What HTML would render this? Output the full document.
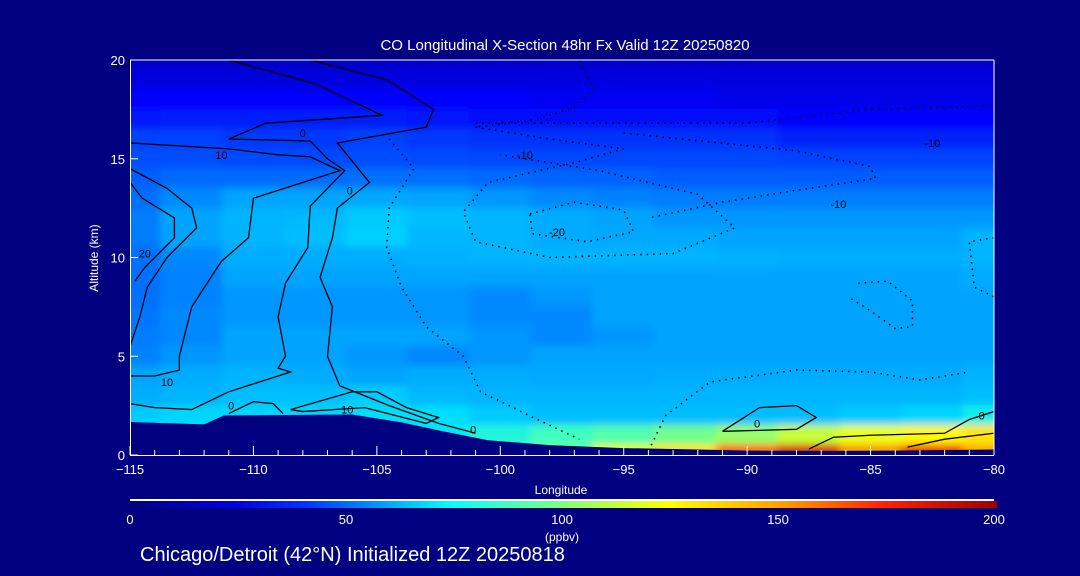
<!DOCTYPE html>
<html><head><meta charset="utf-8"><style>
html,body{margin:0;padding:0;background:#000080;}
svg{display:block;font-family:"Liberation Sans",sans-serif;}
</style></head><body>
<svg id="chart" width="1080" height="576" viewBox="0 0 1080 576" xmlns="http://www.w3.org/2000/svg">
<defs>
<clipPath id="plotclip"><rect x="130" y="60" width="864" height="395"/></clipPath>
<filter id="blur" x="-5%" y="-5%" width="110%" height="110%"><feGaussianBlur stdDeviation="4"/></filter>
<linearGradient id="cbar" x1="0" x2="1" y1="0" y2="0">
<stop offset="0" stop-color="#000080"/><stop offset="0.12" stop-color="#0000e0"/><stop offset="0.2" stop-color="#0030ff"/>
<stop offset="0.28" stop-color="#0090ff"/><stop offset="0.37" stop-color="#00ffff"/><stop offset="0.5" stop-color="#80ff80"/>
<stop offset="0.62" stop-color="#ffff00"/><stop offset="0.75" stop-color="#ffa000"/><stop offset="0.87" stop-color="#ff2000"/>
<stop offset="1" stop-color="#a00000"/></linearGradient>
</defs>
<rect x="0" y="0" width="1080" height="576" fill="#000080"/>
<text x="565" y="50" fill="#fff" font-size="15" text-anchor="middle">CO Longitudinal X-Section 48hr  Fx Valid 12Z 20250820</text>
<g id="field" clip-path="url(#plotclip)"><g id="cells" filter="url(#blur)"></g></g>
<polygon id="terrain" fill="#000080"/>
<g id="contours" clip-path="url(#plotclip)"></g>
<g id="axes"></g>
<line x1="130" y1="500" x2="994" y2="500" stroke="#fff" stroke-width="2"/>
<rect x="130" y="501" width="867" height="7" fill="url(#cbar)"/>
<g id="cbticks"></g>
<text x="562" y="541" fill="#fff" font-size="12" text-anchor="middle">(ppbv)</text>
<text x="561" y="494" fill="#fff" font-size="12" text-anchor="middle">Longitude</text>
<text x="98" y="258" fill="#fff" font-size="12" text-anchor="middle" transform="rotate(-90 98 258)">Altitude (km)</text>
<text x="140" y="561" fill="#fff" font-size="20">Chicago/Detroit (42°N) Initialized 12Z 20250818</text>
</svg>
<script>
const lons=[-115,-112.5,-110,-107.5,-105,-102.5,-100,-97.5,-95,-92.5,-90,-87.5,-85,-82.5,-80];
const alts=[20,19,18,17,16,15,14,13,12,11,10,9,8,7,6,5,4,3,2,1,0];
const co=[
[28,28,28,28,28,28,28,28,28,28,28,28,28,28,28],
[30,30,30,30,30,30,30,30,30,30,30,30,30,30,30],
[33,33,33,33,33,33,33,32,32,32,31,31,31,31,31],
[36,37,37,37,37,36,35,35,35,35,35,34,34,34,34],
[42,42,41,41,42,41,40,40,40,40,40,38,38,38,38],
[46,46,45,45,46,45,44,44,44,44,44,43,43,43,43],
[49,51,51,51,52,52,51,50,50,49,49,49,49,49,49],
[52,56,58,58,59,58,57,56,55,54,54,54,54,54,54],
[54,58,62,63,66,64,62,60,58,57,57,57,57,57,57],
[54,58,62,64,67,63,62,60,59,59,58,58,58,58,62],
[52,56,60,60,60,61,62,62,62,62,61,60,60,60,62],
[52,55,58,58,58,58,58,58,58,58,58,58,58,58,60],
[52,55,57,57,57,57,56,57,58,58,58,58,58,58,58],
[53,56,57,57,57,57,56,56,58,58,58,58,58,58,58],
[54,56,58,58,58,58,57,56,57,58,58,58,58,58,58],
[55,57,58,58,57,56,57,58,58,58,58,58,58,58,58],
[58,60,62,60,58,60,60,59,59,60,60,60,60,60,62],
[60,62,64,64,66,63,62,62,62,62,62,62,62,62,64],
[66,68,68,68,70,70,66,64,64,64,64,64,66,68,74],
[72,72,72,72,72,72,76,80,84,90,98,108,116,122,128],
[75,75,75,75,75,75,80,90,115,128,160,178,150,168,145]];
const terrainLon=[-115,-112,-111.2,-106,-104,-102.5,-100.5,-98,-95,-92,-90,-87,-84,-80];
const terrainAlt=[1.67,1.55,2.0,2.05,1.65,1.25,0.75,0.5,0.35,0.28,0.22,0.2,0.22,0.28];
const xTicks=[-115,-110,-105,-100,-95,-90,-85,-80];
const yTicks=[0,5,10,15,20];
const cbTicks=[0,50,100,150,200];
const solid=[
[[-107.7,20],[-104.6,19],[-102.7,17.5],[-103,16.6],[-106.6,15.8],[-105.3,13.8],[-106.6,12.5],[-106.8,11],[-107.3,9],[-106.8,7.5],[-107,5],[-106.5,3.5],[-104.5,2.5],[-102.5,1.6],[-101,1.1]],
[[-115,20],[-111,20],[-107.5,18.8],[-104.8,17.2],[-109.5,16.8],[-111,16],[-107.7,15.9],[-107,15],[-106.3,14.4],[-107.7,12.6],[-107.8,10.5],[-108.7,8.7],[-109,7],[-108.7,5],[-109,4.4],[-108.5,4.2],[-110,3.6],[-111,3.2],[-112.5,2.3],[-114,2.4],[-115,2.6]],
[[-115,15.8],[-111,15.5],[-109,15.2],[-107.7,15.1],[-106.5,14.4],[-110,13],[-110.2,11],[-111.3,9.8],[-112.5,7.5],[-113,5],[-113,4.3],[-114,4],[-115,4]],
[[-115,14.5],[-113.5,13.5],[-112.5,12.5],[-112.3,11.5],[-113.5,10],[-114.3,8.5],[-114.6,7],[-115,5.5]],
[[-115,13.8],[-114.5,13],[-113.2,12],[-113.2,11],[-114.4,9.5],[-114.8,8.8]],
[[-108.5,2.3],[-106,3.2],[-105,3.2],[-103.8,2.4],[-102.5,1.9],[-103,1.6],[-105.5,2.4],[-108,2.2],[-108.5,2.3]],
[[-111,2.1],[-110,2.7],[-109.2,2.6],[-108.8,2.1]],
[[-91,1.2],[-89.5,2.4],[-88,2.5],[-87.2,1.9],[-88,1.3],[-91,1.2]],
[[-87.5,0.3],[-86.5,0.9],[-85,1],[-82,1.1],[-81,1.8],[-80,2.2]],
[[-83.5,0.4],[-82,0.8],[-80,1.1]]];
const dotted=[
[[-104.5,16],[-103.5,14.5],[-104.5,12.5],[-104.6,10.5],[-104,8.5],[-103,6.5],[-101.5,5],[-100.8,3.2],[-98.5,1.8],[-96.8,0.8]],
[[-101,16.6],[-98,16],[-95,15.5],[-97,14.8],[-100.5,13.8],[-101.5,12.3],[-101,10.8],[-98,10],[-93,10.2],[-90.5,11.5],[-92,13.2],[-96,14.4],[-100,15.2]],
[[-98.8,12.2],[-97,12.8],[-95,12.4],[-94.6,11.3],[-96.5,10.8],[-98.7,11.2],[-98.8,12.2]],
[[-101,16.8],[-95,16.8],[-90,16.8],[-85,17.5],[-82,17.6],[-80,17.7]],
[[-96.8,20],[-96.2,18.5],[-97,17.6],[-98.5,17],[-101,16.6]],
[[-95,16.3],[-88,15.4],[-85,14.6],[-84.8,14],[-88,13.4],[-91,12.8],[-94,12]],
[[-94,0.2],[-93.3,2],[-91.5,3.7],[-88,4.3],[-85,4.2],[-83,3.8],[-81,4.2]],
[[-80,11],[-81,10.8],[-80.8,8.5],[-80,8]],
[[-85.5,8.7],[-84.3,8.8],[-83.3,7.8],[-83.3,6.5],[-84,6.4],[-85,7.3],[-85.9,8]]];
const solidLabels=[["0",-108,16.3],["10",-111.3,15.2],["0",-106.1,13.4],["20",-114.4,10.2],["10",-113.5,3.7],["0",-110.9,2.5],["10",-106.2,2.3],["0",-101.1,1.3],["0",-89.6,1.6],["0",-80.5,2]];
const dottedLabels=[["-10",-99,15.2],["-20",-97.7,11.3],["-10",-82.5,15.8],["-10",-86.3,12.7]];

const X=l=>130+(l+115)*864/35;
const Y=a=>455-a*395/20;
const NS="http://www.w3.org/2000/svg";
const stops=[[20,[0,0,160]],[28,[0,0,200]],[33,[0,0,255]],[38,[0,32,248]],[42,[0,64,255]],[47,[0,80,255]],[52,[0,112,255]],[56,[0,136,255]],[58,[0,164,255]],[63,[0,184,255]],[67,[0,208,255]],[72,[0,232,248]],[80,[64,255,192]],[100,[160,255,96]],[120,[255,255,0]],[140,[255,192,0]],[160,[255,96,0]],[175,[224,0,0]],[200,[160,0,0]]];
function cmap(v){for(let i=1;i<stops.length;i++){if(v<=stops[i][0]){const a=stops[i-1],b=stops[i],t=(v-a[0])/(b[0]-a[0]);const c=a[1].map((x,k)=>Math.round(x+(b[1][k]-x)*t));return `rgb(${c})`;}}return "rgb(160,0,0)";}
const cells=document.getElementById('cells');
alts.forEach((a,r)=>lons.forEach((l,c)=>{
 const rc=document.createElementNS(NS,'rect');
 const x0=X(l-1.25),x1=X(l+1.25),y0=Y(a+0.5),y1=Y(a-0.5);
 const ex0=(c===0)?-20:0,ex1=(c===lons.length-1)?20:0,ey0=(r===0)?-20:0,ey1=(r===alts.length-1)?20:0;
 rc.setAttribute('x',x0-0.5+ex0);rc.setAttribute('y',y0-0.5+ey0);rc.setAttribute('width',x1-x0+1-ex0+ex1);rc.setAttribute('height',y1-y0+1-ey0+ey1);
 rc.setAttribute('fill',cmap(co[r][c]));
 
 
 cells.appendChild(rc);}));
let tp=terrainLon.map((l,i)=>X(l)+','+Y(terrainAlt[i])).join(' ');
tp+=` ${X(-80)},${Y(0)} ${X(-115)},${Y(0)}`;
document.getElementById('terrain').setAttribute('points',tp);
const cg=document.getElementById('contours');
function line(pts,dash,name){const p=document.createElementNS(NS,'polyline');
 p.setAttribute('points',pts.map(q=>X(q[0])+','+Y(q[1])).join(' '));
 p.setAttribute('fill','none');p.setAttribute('stroke','#000');p.setAttribute('stroke-width',dash?1.6:1.3);
 if(dash)p.setAttribute('stroke-dasharray','1.5 5');
 
 
 cg.appendChild(p);}
solid.forEach(s=>line(s,false,'contour-positive'));
dotted.forEach(s=>line(s,true,'contour-negative'));
function lab(arr,name){arr.forEach(t=>{const e=document.createElementNS(NS,'text');
 e.setAttribute('x',X(t[1]));e.setAttribute('y',Y(t[2])+4);e.setAttribute('font-size','11');e.setAttribute('text-anchor','middle');e.setAttribute('fill','#000');
 e.textContent=t[0];
 
 
 cg.appendChild(e);});}
lab(solidLabels,'contour-label');lab(dottedLabels,'contour-label');
const ax=document.getElementById('axes');
function el(tag,attrs,name,txt){const e=document.createElementNS(NS,tag);for(const k in attrs)e.setAttribute(k,attrs[k]);if(txt!==undefined)e.textContent=txt;
 
 
 ax.appendChild(e);return e;}
el('line',{x1:130,y1:60,x2:994,y2:60,stroke:'#fff','stroke-width':1},'plot-top-border');
el('line',{x1:994,y1:60,x2:994,y2:455,stroke:'#fff','stroke-width':1},'plot-right-border');
el('line',{x1:130,y1:455.5,x2:994,y2:455.5,stroke:'#fff','stroke-width':1},'x-axis-line');
el('line',{x1:130.5,y1:60,x2:130.5,y2:455,stroke:'#fff','stroke-width':1},'y-axis-line');
for(let l=-115;l<=-80;l++){const maj=xTicks.includes(l);
 el('line',{x1:X(l),y1:455,x2:X(l),y2:455-(maj?9:5),stroke:'#fff','stroke-width':1},maj?'x-major-tick':'x-minor-tick');}
xTicks.forEach(l=>el('text',{x:X(l),y:474,fill:'#fff','font-size':13,'text-anchor':'middle'},'x-tick-label',String(l).replace('-','\u2212')));
yTicks.forEach(a=>{el('line',{x1:130,y1:Y(a),x2:138,y2:Y(a),stroke:'#fff','stroke-width':1},'y-major-tick');
 el('text',{x:125,y:Y(a)+5,fill:'#fff','font-size':13,'text-anchor':'end'},'y-tick-label',String(a));});
const cb=document.getElementById('cbticks');
cbTicks.forEach(v=>{const e=document.createElementNS(NS,'text');
 e.setAttribute('x',130+v*864/200);e.setAttribute('y',524);e.setAttribute('fill','#fff');e.setAttribute('font-size','13');e.setAttribute('text-anchor','middle');
 e.textContent=v;
 
 
 cb.appendChild(e);});
</script>
</body></html>
